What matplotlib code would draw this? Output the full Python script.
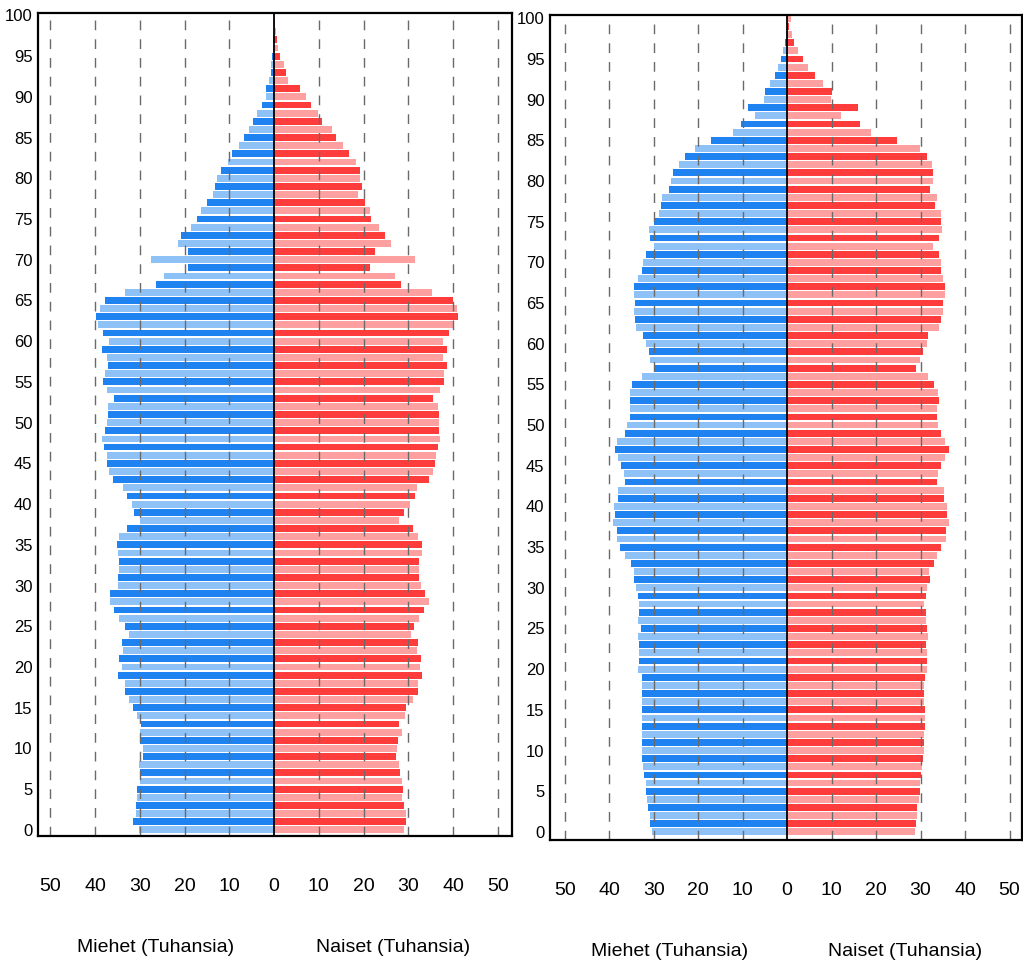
import numpy as np
import matplotlib
matplotlib.use('Agg')
import matplotlib.pyplot as plt

plt.rcParams['font.family'] = ['Liberation Sans Narrow', 'Liberation Sans', 'DejaVu Sans']

ages = list(range(101))

# values in thousands, index = age 0..100
left_men = [30.2, 31.6, 30.8, 30.8, 30.7, 30.6, 29.9, 29.9, 30.1, 29.2,
            29.2, 29.9, 29.9, 29.7, 30.6, 31.6, 32.5, 33.4, 33.4, 34.9,
            34.1, 34.6, 33.8, 34.0, 32.5, 33.3, 34.6, 35.7, 36.6, 36.6,
            34.9, 34.9, 34.6, 34.7, 34.9, 35.2, 34.7, 32.8, 29.9, 31.3,
            31.7, 32.8, 33.8, 36.0, 37.0, 37.4, 37.4, 38.1, 38.4, 37.7,
            37.4, 37.2, 37.2, 35.7, 37.4, 38.3, 37.7, 37.2, 37.4, 38.5,
            37.0, 38.3, 39.3, 39.8, 39.0, 37.7, 33.4, 26.3, 24.6, 19.2,
            27.6, 19.2, 21.5, 20.9, 18.5, 17.2, 16.4, 15.0, 13.7, 13.2,
            12.8, 11.8, 10.3, 9.3, 7.8, 6.7, 5.7, 4.7, 3.8, 2.8,
            1.9, 1.7, 1.1, 0.8, 0.6, 0.4, 0.3, 0.2, 0.1, 0.0, 0.0]
left_women = [29.0, 29.4, 29.6, 29.0, 28.7, 28.9, 28.5, 28.1, 27.9, 27.2,
              27.4, 27.7, 28.5, 27.9, 29.2, 29.6, 31.1, 32.2, 32.2, 33.0,
              32.6, 32.8, 32.0, 32.2, 30.6, 31.3, 32.4, 33.5, 34.6, 33.7,
              32.8, 32.5, 32.4, 32.4, 33.0, 33.0, 32.2, 31.1, 27.9, 29.0,
              30.3, 31.4, 32.0, 34.6, 35.5, 36.0, 36.1, 36.7, 37.2, 36.9,
              36.9, 36.9, 36.6, 35.5, 37.2, 38.1, 38.0, 38.6, 37.8, 38.7,
              37.8, 39.1, 40.2, 41.1, 40.8, 39.9, 35.2, 28.4, 27.0, 21.4,
              31.4, 22.5, 26.2, 24.7, 23.4, 21.7, 21.4, 20.4, 18.8, 19.7,
              19.1, 19.2, 18.3, 16.8, 15.3, 13.9, 13.0, 10.8, 9.9, 8.2,
              7.1, 5.7, 3.1, 2.7, 2.3, 1.4, 0.9, 0.7, 0.4, 0.2, 0.1]
right_men = [30.4, 30.8, 30.9, 31.2, 31.5, 31.7, 31.7, 32.1, 32.3, 32.5,
             32.5, 32.5, 32.6, 32.7, 32.7, 32.7, 32.7, 32.7, 32.6, 32.7,
             33.6, 33.2, 33.2, 33.2, 33.4, 32.9, 33.6, 33.2, 33.2, 33.4,
             34.0, 34.4, 34.4, 35.1, 36.5, 37.5, 38.3, 38.3, 39.2, 38.6,
             38.9, 38.0, 37.9, 36.5, 36.6, 37.4, 38.0, 38.6, 38.3, 36.5,
             36.0, 35.4, 35.3, 35.4, 35.4, 34.9, 32.7, 30.0, 30.8, 31.0,
             31.7, 32.3, 34.0, 34.2, 34.4, 34.1, 34.4, 34.4, 33.5, 32.6,
             32.3, 31.7, 30.0, 30.8, 31.0, 30.0, 28.9, 28.3, 28.2, 26.5,
             26.1, 25.7, 24.4, 22.9, 20.8, 17.0, 12.1, 10.3, 7.1, 8.8,
             5.3, 5.0, 3.9, 2.8, 2.0, 1.4, 0.9, 0.5, 0.2, 0.1, 0.0]
right_women = [28.8, 28.9, 29.1, 29.2, 29.7, 29.8, 29.8, 30.2, 30.4, 30.5,
               30.8, 30.8, 30.8, 31.1, 31.1, 31.1, 30.8, 30.8, 30.8, 31.0,
               31.5, 31.4, 31.4, 31.2, 31.6, 31.4, 31.2, 31.2, 30.8, 31.2,
               31.5, 32.1, 32.0, 33.0, 33.6, 34.7, 35.7, 35.7, 36.5, 36.0,
               36.0, 35.3, 35.3, 33.6, 34.0, 34.7, 35.6, 36.4, 35.6, 34.7,
               34.0, 33.8, 33.8, 34.2, 34.0, 33.0, 31.7, 28.9, 29.8, 30.6,
               31.5, 31.7, 34.2, 34.7, 35.0, 35.0, 35.5, 35.6, 35.0, 34.7,
               34.5, 34.2, 32.9, 34.2, 34.9, 34.5, 34.5, 33.2, 33.8, 32.1,
               32.9, 32.9, 32.5, 31.4, 29.8, 24.7, 18.8, 16.5, 12.2, 16.0,
               9.9, 10.1, 8.1, 6.3, 4.7, 3.5, 2.4, 1.5, 1.0, 0.4, 0.9]

blue_dark, blue_light = '#1e82f0', '#8ec2f7'
red_dark, red_light = '#ff3c3c', '#ffa0a0'

fig = plt.figure(figsize=(10.23, 9.69), dpi=100)
ax1 = fig.add_axes([0.0371, 0.1373, 0.4634, 0.8493])
ax2 = fig.add_axes([0.5376, 0.1331, 0.4614, 0.8514])


def pyramid(ax, men, women, xlim, ylim):
    y = np.array(ages)
    bc = [blue_dark if a % 2 else blue_light for a in ages]
    rc = [red_dark if a % 2 else red_light for a in ages]
    ax.barh(y, -np.array(men), height=0.84, color=bc, zorder=1)
    ax.barh(y, women, height=0.84, color=rc, zorder=1)
    for g in [-50, -40, -30, -20, -10, 10, 20, 30, 40, 50]:
        ax.axvline(g, color='#6a6a6a', lw=1.0, dashes=(7, 6.5), zorder=2)
    ax.axvline(0, color='black', lw=1.3, zorder=3)
    ax.set_xlim(*xlim)
    ax.set_ylim(*ylim)
    ax.set_xticks([-50, -40, -30, -20, -10, 0, 10, 20, 30, 40, 50])
    ax.set_xticklabels(['50', '40', '30', '20', '10', '0', '10', '20', '30', '40', '50'])
    ax.set_yticks(range(0, 101, 5))
    ax.tick_params(axis='x', length=0, pad=30, labelsize=14)
    ax.tick_params(axis='y', length=0, pad=4, labelsize=12)
    for s in ax.spines.values():
        s.set_linewidth(1.6)
        s.set_color('black')
    ax.text(-26.5, -0.135, 'Miehet (Tuhansia)', transform=ax.get_xaxis_transform(),
            ha='center', va='center', fontsize=14)
    ax.text(26.5, -0.135, 'Naiset (Tuhansia)', transform=ax.get_xaxis_transform(),
            ha='center', va='center', fontsize=14)


pyramid(ax1, left_men, left_women, (-52.8, 53.2), (-0.75, 100.3))
pyramid(ax2, right_men, right_women, (-53.3, 52.8), (-1.0, 100.4))

fig.savefig('out.png', dpi=100)
